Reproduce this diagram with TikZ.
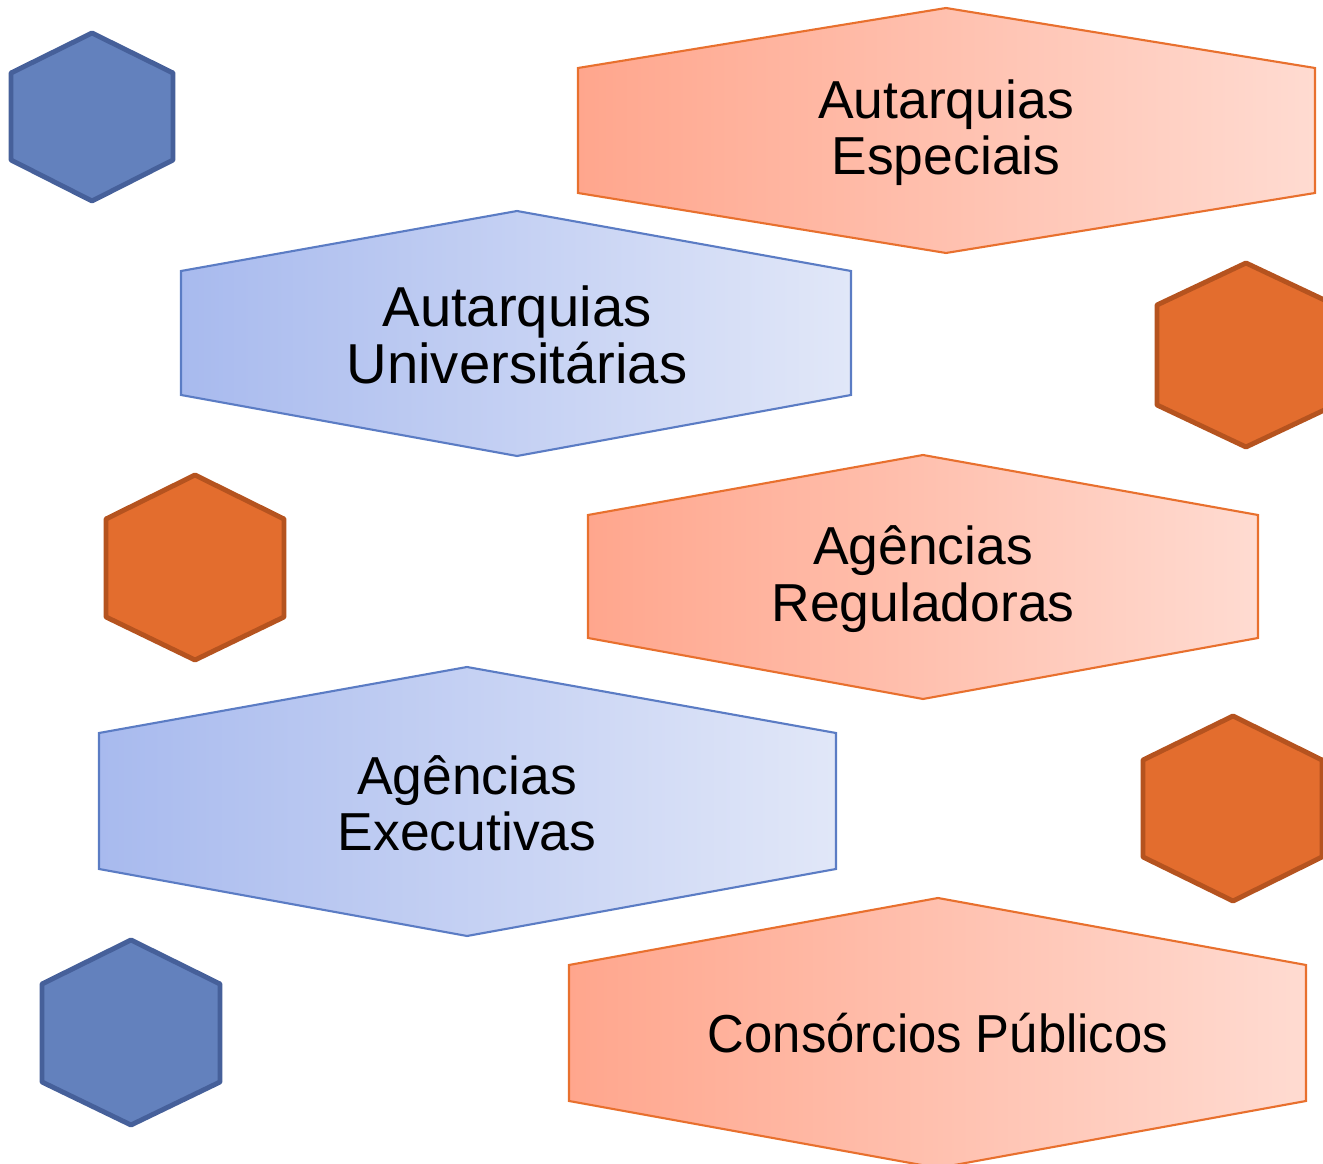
\documentclass[tikz,border=0pt]{standalone}
\usepackage{fontspec}
\setmainfont{Liberation Sans}
\definecolor{peachL}{HTML}{FFA68D}
\definecolor{peachR}{HTML}{FFDBD1}
\definecolor{peachLine}{HTML}{E8702E}
\definecolor{lilacL}{HTML}{A8BAEE}
\definecolor{lilacR}{HTML}{E1E7F8}
\definecolor{lilacLine}{HTML}{5B7CC4}
\definecolor{navyFill}{HTML}{6381BD}
\definecolor{navyLine}{HTML}{46609A}
\definecolor{rustFill}{HTML}{E36D2E}
\definecolor{rustLine}{HTML}{B5531F}
\tikzset{
  peach/.style={draw=peachLine,line width=0.6pt,left color=peachL,right color=peachR},
  lilac/.style={draw=lilacLine,line width=0.6pt,left color=lilacL,right color=lilacR},
  navy/.style={draw=navyLine,fill=navyFill,line width=1.4pt,line join=round},
  rust/.style={draw=rustLine,fill=rustFill,line width=1.4pt,line join=round},
  label/.style={align=center,font=\fontsize{15.2}{16}\selectfont},
  biglabel/.style={align=center,font=\fontsize{16}{16}\selectfont}
}
\begin{document}
\begin{tikzpicture}[x=0.01cm,y=-0.01cm]
\useasboundingbox (0,0) rectangle (1323,1164);

\draw[navy] (92,33) -- (173,73) -- (173,160) -- (92,201) -- (11,160) -- (11,73) -- cycle;
\draw[peach] (946,8) -- (1315,68) -- (1315,193) -- (946,253) -- (578,193) -- (578,68) -- cycle;
\draw[lilac] (517,211) -- (851,271) -- (851,395) -- (517,456) -- (181,395) -- (181,271) -- cycle;
\draw[rust] (1246,263) -- (1335,305) -- (1335,405) -- (1246,447) -- (1157,405) -- (1157,305) -- cycle;
\draw[rust] (195,475) -- (284,519) -- (284,617) -- (195,660) -- (106,617) -- (106,519) -- cycle;
\draw[peach] (923,455) -- (1258,515) -- (1258,638) -- (923,699) -- (588,638) -- (588,515) -- cycle;
\draw[lilac] (467,667) -- (836,733) -- (836,869) -- (467,936) -- (99,869) -- (99,733) -- cycle;
\draw[rust] (1233,716) -- (1322,760) -- (1322,857) -- (1233,901) -- (1143,857) -- (1143,760) -- cycle;
\draw[navy] (131,940) -- (220,984) -- (220,1082) -- (131,1125) -- (42,1082) -- (42,984) -- cycle;
\draw[peach] (938,898) -- (1306,965) -- (1306,1101) -- (938,1168) -- (569,1101) -- (569,965) -- cycle;

\path (946,133) node[label](especiais){Autarquias\\Especiais}
      (517,335) node[biglabel](universitarias){Autarquias\\Universitárias}
      (923,579) node[label](reguladoras){Agências\\Reguladoras}
      (467,803) node[label](executivas){Agências\\Executivas}
      (938,1033) node[label,xscale=0.95](consorcios){Consórcios Públicos};
\end{tikzpicture}
\end{document}
